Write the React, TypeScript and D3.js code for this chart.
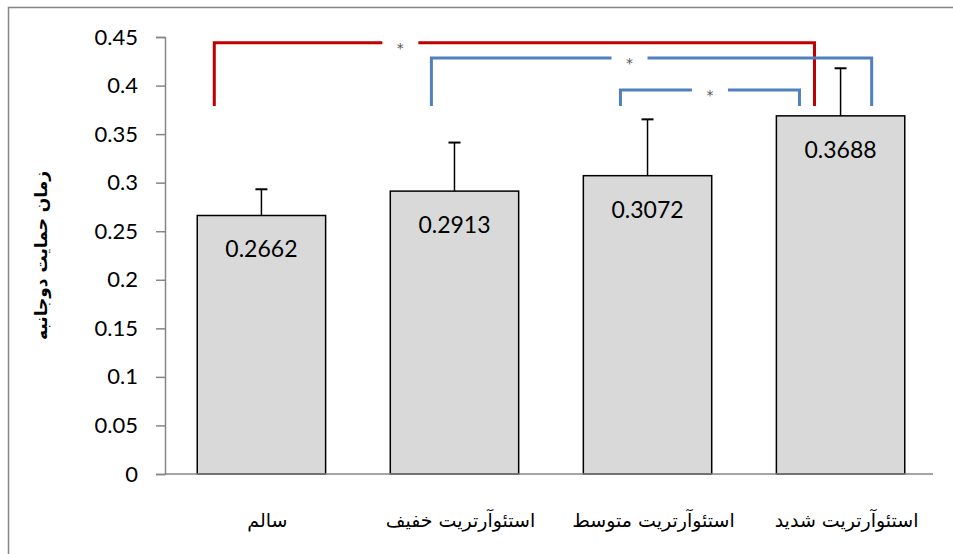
import { useEffect, useRef } from "react";
import * as d3 from "d3";

// groups, left to right
const categories = ["سالم", "استئوآرتریت خفیف", "استئوآرتریت متوسط", "استئوآرتریت شدید"];
const means = [0.2662, 0.2913, 0.3072, 0.3688];
const errors = [0.027, 0.05, 0.058, 0.049];
const yTicks = [0, 0.05, 0.1, 0.15, 0.2, 0.25, 0.3, 0.35, 0.4, 0.45];
const yLabel = "زمان حمایت دوجانبه";

// significance brackets: from group, to group, level
const sigFrom = [0, 1, 2];
const sigTo = [3, 3, 3];
const sigLevel = [0.444, 0.4285, 0.3955];
const sigColor = ["#C00000", "#4F81BD", "#4F81BD"];

export default function App() {
    const svgRef = useRef<SVGSVGElement | null>(null);

    useEffect(() => {
        const width = 953;
        const height = 554;
        const marginLeft = 165;
        const plotRight = 937;
        const y0 = 474;
        const yTop = 37;

        const svg = d3.select(svgRef.current)
            .attr("width", width)
            .attr("height", height);
        svg.selectAll("*").remove();

        // chart border
        svg.append("rect")
            .attr("x", 8.5).attr("y", 7.5)
            .attr("width", 960).attr("height", 560)
            .attr("fill", "white")
            .attr("stroke", "#868686")
            .attr("stroke-width", 1.5);

        const x = d3.scaleBand()
            .domain(categories)
            .range([marginLeft, plotRight])
            .paddingInner(0.335)
            .paddingOuter(0.167);

        const y = d3.scaleLinear()
            .domain([0, 0.45])
            .range([y0, yTop]);

        // y axis
        const yAxis = svg.append("g")
            .attr("transform", `translate(${marginLeft},0)`)
            .call(d3.axisLeft(y).tickValues(yTicks).tickSize(9).tickPadding(18)
                .tickFormat(d => String(+d)));
        yAxis.select(".domain").attr("stroke", "#868686").attr("stroke-width", 1.5);
        yAxis.selectAll(".tick line").attr("stroke", "#868686").attr("stroke-width", 1.5);
        yAxis.selectAll(".tick text")
            .attr("fill", "#000")
            .style("font-family", "Lato, 'Open Sans', sans-serif")
            .style("font-size", "22px");

        // bars
        svg.selectAll(".bar")
            .data(means)
            .enter()
            .append("rect")
            .attr("class", "bar")
            .attr("x", (_, i) => x(categories[i])!)
            .attr("y", d => y(d))
            .attr("width", x.bandwidth())
            .attr("height", d => y0 - y(d))
            .attr("fill", "#D9D9D9")
            .attr("stroke", "#000")
            .attr("stroke-width", 1.5);

        // x axis line
        svg.append("line")
            .attr("x1", marginLeft).attr("x2", plotRight - 4)
            .attr("y1", y0).attr("y2", y0)
            .attr("stroke", "#868686")
            .attr("stroke-width", 1.5);

        // error bars (upper only)
        const eb = svg.append("g");
        means.forEach((m, i) => {
            const cx = x(categories[i])! + x.bandwidth() / 2;
            eb.append("line")
                .attr("x1", cx).attr("x2", cx)
                .attr("y1", y(m)).attr("y2", y(m + errors[i]))
                .attr("stroke", "#000").attr("stroke-width", 1.5);
            eb.append("line")
                .attr("x1", cx - 6).attr("x2", cx + 6)
                .attr("y1", y(m + errors[i])).attr("y2", y(m + errors[i]))
                .attr("stroke", "#000").attr("stroke-width", 2);
        });

        // value labels
        svg.selectAll(".val")
            .data(means)
            .enter()
            .append("text")
            .attr("x", (_, i) => x(categories[i])! + x.bandwidth() / 2)
            .attr("y", d => y(d) + 42)
            .attr("text-anchor", "middle")
            .style("font-family", "Lato, 'Open Sans', sans-serif")
            .style("font-size", "23px")
            .text(d => d.toFixed(4));

        // category labels
        svg.selectAll(".cat")
            .data(categories)
            .enter()
            .append("text")
            .attr("x", d => x(d)! + x.bandwidth() / 2 + 6)
            .attr("y", 527)
            .attr("text-anchor", "middle")
            .attr("direction", "rtl")
            .style("font-family", "'DejaVu Sans', sans-serif")
            .style("font-size", "19px")
            .text(d => d);

        // y label
        svg.append("text")
            .attr("transform", `translate(47,${(y0 + yTop) / 2}) rotate(-90)`)
            .attr("text-anchor", "middle")
            .attr("direction", "rtl")
            .style("font-family", "'DejaVu Sans', sans-serif")
            .style("font-size", "17px")
            .style("font-weight", "bold")
            .text(yLabel);

        // significance brackets
        const bw = x.bandwidth();
        const leftOff = [-47 / 128, -23 / 128, -27 / 128];
        const rightOff = [-26 / 128, 31 / 128, -41 / 128];
        const starOff = [0.31, 0.45, 0.5];
        const legBottom = y(0.379);
        sigFrom.forEach((f, i) => {
            const x1 = x(categories[f])! + bw / 2 + leftOff[i] * bw;
            const x2 = x(categories[sigTo[i]])! + bw / 2 + rightOff[i] * bw;
            const yy = y(sigLevel[i]);
            const sx = x1 + (x2 - x1) * starOff[i];
            const g = svg.append("g")
                .attr("fill", "none")
                .attr("stroke", sigColor[i])
                .attr("stroke-width", 3);
            g.append("path")
                .attr("d", `M${x1},${legBottom}V${yy}H${sx - 18}`);
            g.append("path")
                .attr("d", `M${sx + 18},${yy}H${x2}V${legBottom}`);
            svg.append("text")
                .attr("x", sx)
                .attr("y", yy + 10)
                .attr("text-anchor", "middle")
                .attr("fill", "#555")
                .style("font-family", "'DejaVu Sans', sans-serif")
                .style("font-size", "14px")
                .text("*");
        });
    }, []);

    return (
        <svg ref={svgRef} style={{ position: "absolute", left: 0, top: 0, overflow: "hidden" }} />
    );
}
